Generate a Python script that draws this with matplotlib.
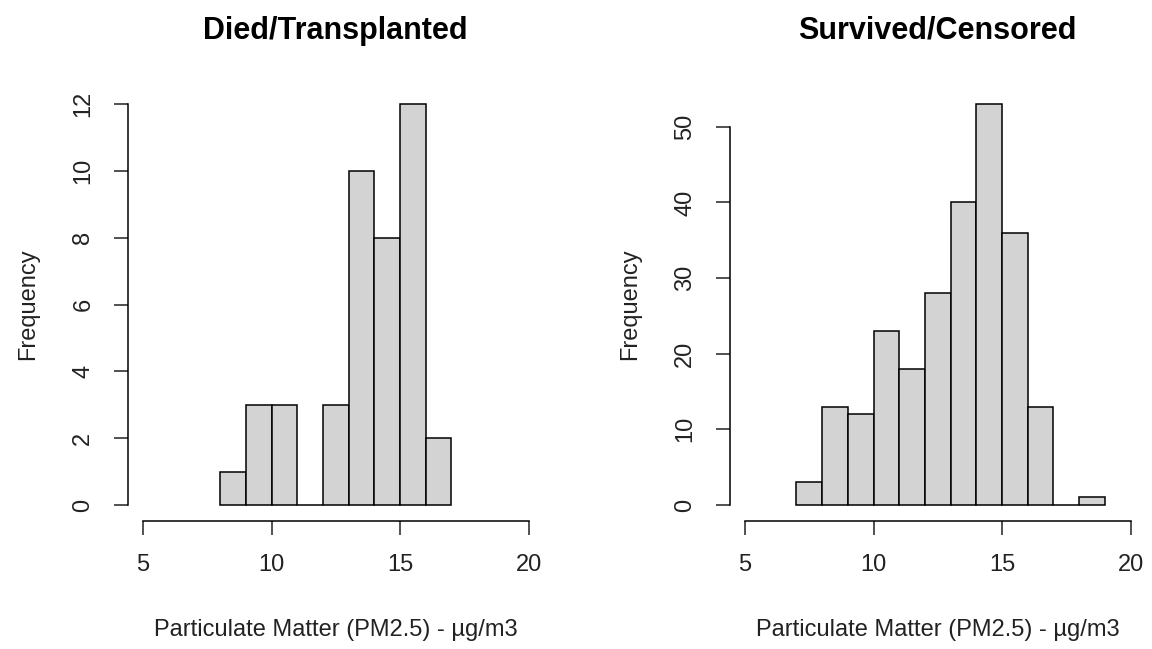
"""PM2.5 histograms by outcome, R base-graphics look."""
import numpy as np
import matplotlib
matplotlib.use("Agg")
import matplotlib.pyplot as plt

plt.rcParams.update({"font.family": ["Liberation Sans", "DejaVu Sans"], "font.size": 17})

# bin edges (width 1) and counts
died_edges = [8, 9, 10, 11, 12, 13, 14, 15, 16]
died_counts = [1, 3, 3, 0, 3, 10, 8, 12, 2]
surv_edges = [7, 8, 9, 10, 11, 12, 13, 14, 15, 16, 17, 18]
surv_counts = [3, 13, 12, 23, 18, 28, 40, 53, 36, 13, 0, 1]

titles = ["Died/Transplanted", "Survived/Censored"]
xlabel = "Particulate Matter (PM2.5) - \u00b5g/m3"
xticks = [5, 10, 15, 20]
yticks = [[0, 2, 4, 6, 8, 10, 12], [0, 10, 20, 30, 40, 50]]

W, H = 1152, 649
fig = plt.figure(figsize=(W/100, H/100), dpi=100)
lefts = [127.6, 729.6]
for i, (edges, counts) in enumerate([(died_edges, died_counts), (surv_edges, surv_counts)]):
    ax = fig.add_axes([lefts[i]/W, (H-521)/H, 416.4/W, 433/H])
    ax.bar(edges, counts, width=1, align="edge", color="#d3d3d3", edgecolor="black", lw=1.1)
    top = max(counts)
    ax.set_xlim(5-0.6, 20+0.6); ax.set_ylim(-0.04*top, top*1.04)
    ax.set_xticks(xticks); ax.set_yticks(yticks[i])
    ax.tick_params(length=10, width=1.1, pad=14, labelsize=17, colors="#222222")
    for lab in ax.get_yticklabels():
        lab.set_rotation(90); lab.set_va("center")
    for sp in ("top", "right"): ax.spines[sp].set_visible(False)
    for sp in ("left", "bottom"): ax.spines[sp].set_linewidth(1.1)
    ax.spines["left"].set_bounds(yticks[i][0], yticks[i][-1])
    ax.spines["bottom"].set_bounds(5, 20)
    ax.set_xlabel(xlabel, labelpad=31, color="#222222")
    ax.set_ylabel("Frequency", labelpad=24, color="#222222")
    ax.set_title(titles[i], fontsize=22, weight="bold", pad=35.5)
fig.savefig("out.png", dpi=100)
